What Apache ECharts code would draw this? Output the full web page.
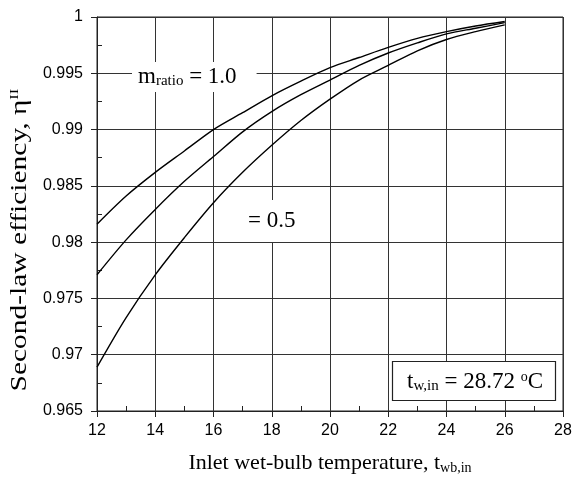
<!DOCTYPE html>
<html>
<head>
<meta charset="utf-8">
<script src="https://cdn.jsdelivr.net/npm/echarts@6/dist/echarts.min.js"></script>
<style>
html,body{margin:0;padding:0;background:#fff;}
#chart{width:576px;height:481px;}
</style>
</head>
<body>
<div id="chart"></div>
<script>
// Inlet wet-bulb temperature (°C)
const tempWB = [12, 13, 14, 15, 16, 17, 18, 19, 20, 21, 22, 23, 24, 25, 26];
// Second-law efficiency, m_ratio = 1.0 (top curve)
const effRatio10 = [0.9816, 0.9841, 0.9862, 0.9881, 0.9900, 0.9915, 0.9930, 0.9943, 0.9955, 0.9964, 0.9973, 0.9981, 0.9987, 0.9992, 0.9996];
// intermediate curve
const effRatio075 = [0.9771, 0.9802, 0.9829, 0.9854, 0.9876, 0.9898, 0.9916, 0.9931, 0.9944, 0.9957, 0.9968, 0.9977, 0.9985, 0.9990, 0.9995];
// m_ratio = 0.5 (bottom curve)
const effRatio05 = [0.9689, 0.9733, 0.9771, 0.9804, 0.9835, 0.9862, 0.9886, 0.9908, 0.9927, 0.9944, 0.9957, 0.9970, 0.9980, 0.9987, 0.9993];
// axis ranges / ticks
const xTicks = {min: 12, max: 28, interval: 2};
const yTicks = {min: 0.965, max: 1, interval: 0.005};

const serif = '"Liberation Serif", "Times New Roman", serif';
const sans = '"Liberation Sans", Arial, sans-serif';

function pairs(xs, ys) { return xs.map((x, i) => [x, ys[i]]); }

const chart = echarts.init(document.getElementById('chart'), null, {renderer: 'canvas'});

const lineSeries = (name, ys) => ({
  name: name,
  type: 'line',
  data: pairs(tempWB, ys),
  smooth: 0.3,
  symbol: 'none',
  lineStyle: {color: '#000', width: 1.4},
  z: 5
});

const option = {
  animation: false,
  backgroundColor: '#fff',
  grid: {left: 97, right: 13, top: 17, bottom: 70, show: true, borderColor: '#222', borderWidth: 1, backgroundColor: 'transparent'},
  xAxis: {
    type: 'value',
    min: xTicks.min, max: xTicks.max, interval: xTicks.interval,
    axisLine: {show: true, onZero: false, lineStyle: {color: '#222', width: 1}},
    axisTick: {show: true, inside: false, length: 6, lineStyle: {color: '#222'}},
    minorTick: {show: true, splitNumber: 2, length: -5, lineStyle: {color: '#222'}},
    splitLine: {show: true, lineStyle: {color: '#333', width: 1}},
    axisLabel: {color: '#000', fontFamily: sans, fontSize: 16, margin: 12}
  },
  yAxis: {
    type: 'value',
    min: yTicks.min, max: yTicks.max, interval: yTicks.interval,
    axisLine: {show: true, onZero: false, lineStyle: {color: '#222', width: 1}},
    axisTick: {show: true, inside: false, length: 6, lineStyle: {color: '#222'}},
    minorTick: {show: true, splitNumber: 2, length: -5, lineStyle: {color: '#222'}},
    splitLine: {show: true, lineStyle: {color: '#333', width: 1}},
    axisLabel: {color: '#000', fontFamily: sans, fontSize: 16, margin: 14,
      formatter: v => String(+v.toFixed(4))}
  },
  series: [
    lineSeries('m_ratio = 1.0', effRatio10),
    lineSeries('m_ratio = 0.75', effRatio075),
    lineSeries('m_ratio = 0.5', effRatio05)
  ],
  graphic: [
    // y-axis title
    {
      type: 'text', x: 20, y: 240, rotation: Math.PI / 2, scaleX: 1.28, z: 100,
      style: {
        text: '{a|Second-law efficiency, η}{s|II}',
        align: 'center', verticalAlign: 'middle',
        rich: {
          a: {fontFamily: serif, fontSize: 23, fill: '#000', lineHeight: 24},
          s: {fontFamily: serif, fontSize: 13, fill: '#000', lineHeight: 16, verticalAlign: 'top'}
        }
      }
    },
    // x-axis title
    {
      type: 'text', x: 330, y: 463, z: 100,
      style: {
        text: '{a|Inlet wet-bulb temperature, t}{s|wb,in}',
        align: 'center', verticalAlign: 'middle',
        rich: {
          a: {fontFamily: serif, fontSize: 22, fill: '#000', lineHeight: 24},
          s: {fontFamily: serif, fontSize: 14, fill: '#000', lineHeight: 8, verticalAlign: 'bottom'}
        }
      }
    },
    // m_ratio = 1.0 label
    {
      type: 'text', x: 132, y: 62, z: 100,
      style: {
        text: '{a|m}{s|ratio}{a| = 1.0}',
        align: 'left', verticalAlign: 'top',
        backgroundColor: '#fff',
        padding: [3, 20, 3, 6],
        rich: {
          a: {fontFamily: serif, fontSize: 23, fill: '#000', lineHeight: 24},
          s: {fontFamily: serif, fontSize: 15, fill: '#000', lineHeight: 8, verticalAlign: 'bottom'}
        }
      }
    },
    // = 0.5 label
    {
      type: 'text', x: 232, y: 200, z: 100,
      style: {
        text: '= 0.5',
        fontFamily: serif, fontSize: 23, fill: '#000',
        align: 'left', verticalAlign: 'top',
        backgroundColor: '#fff',
        padding: [9, 10, 10, 16]
      }
    },
    // inlet water temperature box
    {
      type: 'rect', z: 100,
      shape: {x: 392.5, y: 361.5, width: 163, height: 39},
      style: {fill: '#fff', stroke: '#222', lineWidth: 1.2}
    },
    {
      type: 'text', x: 475, y: 382, z: 101,
      style: {
        text: '{a|t}{s|w,in}{a| = 28.72 }{o|o}{a|C}',
        align: 'center', verticalAlign: 'middle',
        rich: {
          a: {fontFamily: serif, fontSize: 23, fill: '#000', lineHeight: 24},
          s: {fontFamily: serif, fontSize: 15, fill: '#000', lineHeight: 8, verticalAlign: 'bottom'},
          o: {fontFamily: serif, fontSize: 14, fill: '#000', lineHeight: 6, verticalAlign: 'top'}
        }
      }
    }
  ]
};
chart.setOption(option);
</script>
</body>
</html>
